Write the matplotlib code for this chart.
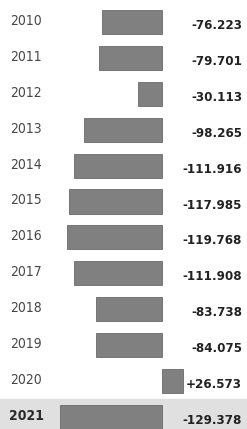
import matplotlib
matplotlib.use("Agg")
import matplotlib.pyplot as plt
import matplotlib.transforms as mtransforms

# balance per year
years = ["2010", "2011", "2012", "2013", "2014", "2015",
         "2016", "2017", "2018", "2019", "2020", "2021"]
values = [-76.223, -79.701, -30.113, -98.265, -111.916, -117.985,
          -119.768, -111.908, -83.738, -84.075, 26.573, -129.378]
value_labels = ["-76.223", "-79.701", "-30.113", "-98.265", "-111.916", "-117.985",
                "-119.768", "-111.908", "-83.738", "-84.075", "+26.573", "-129.378"]

W, H = 247, 429
fig = plt.figure(figsize=(W / 100, H / 100), dpi=100)
fig.patch.set_facecolor("white")
ax = fig.add_axes([0, 0, 1, 1])
ax.set_axis_off()

# zero line at ~162px, ~0.79 px per unit
px_per_unit = 0.79
zero_px = 162
ax.set_xlim(-zero_px / px_per_unit, (W - zero_px) / px_per_unit)
row_step = 35.9
top_px = 22
n = len(years)
ax.set_ylim(n - 1 + (H - top_px - row_step * (n - 1)) / row_step,
            -top_px / row_step)

# greyish strip behind the last row (scan)
ax.axhspan(n - 1 - 0.5, n + 1, color="#e0e0e0", zorder=0)

ypos = list(range(n))
ax.barh(ypos, values, height=0.67, color="#808080", edgecolor="#6a6a6a",
        linewidth=0.6, zorder=2)

trans = mtransforms.blended_transform_factory(ax.transAxes, ax.transData)
fam = ["DejaVu Sans"]
for i, y in enumerate(years):
    last = i == n - 1
    ax.text(26 / W, i - 0.03, y, transform=trans, ha="center", va="center",
            fontsize=10, color="#2a2a2a" if last else "#474747", family=fam,
            fontstretch="condensed", fontweight="bold" if last else "normal")
    ax.text(242 / W, i + 0.1, value_labels[i], transform=trans, ha="right",
            va="center", fontsize=9.5, color="#222222", family=fam,
            fontstretch="condensed", fontweight="bold")

fig.savefig("out.png", dpi=100, facecolor="white")
